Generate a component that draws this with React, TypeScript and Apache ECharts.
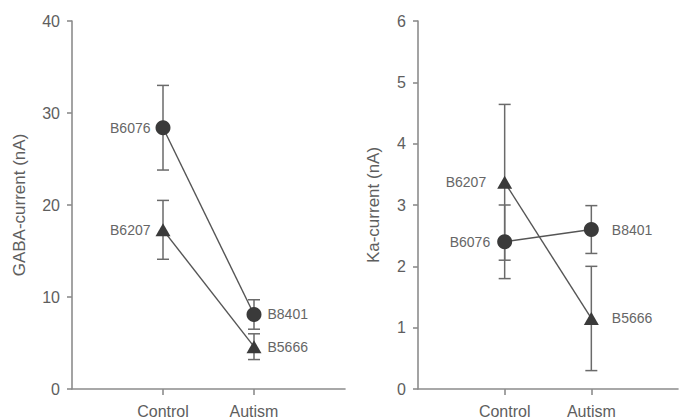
import React, { useEffect, useRef } from "react";
import * as echarts from "echarts";

const categories = ["Control", "Autism"];

const gabaCircle = [28.4, 8.1];
const gabaCircleErr = [4.6, 1.6];
const gabaCircleNames = ["B6076", "B8401"];
const gabaTriangle = [17.3, 4.6];
const gabaTriangleErr = [3.2, 1.4];
const gabaTriangleNames = ["B6207", "B5666"];

const kaCircle = [2.4, 2.6];
const kaCircleErr = [0.6, 0.39];
const kaCircleNames = ["B6076", "B8401"];
const kaTriangle = [3.37, 1.15];
const kaTriangleErr = [1.27, 0.85];
const kaTriangleNames = ["B6207", "B5666"];

const yTicksGaba = { min: 0, max: 40, interval: 10 };
const yTicksKa = { min: 0, max: 6, interval: 1 };

const FONT = "Liberation Sans, Arial, sans-serif";
const AXIS_COLOR = "#8c8c8c";
const TEXT_COLOR = "#5e5e5e";
const MARK_COLOR = "#3a3a3a";
const LINE_COLOR = "#555555";
const ERR_COLOR = "#6a6a6a";

const xData = ["", ...categories, ""];

function lineSeries(
  values: number[],
  names: string[],
  symbol: string,
  symbolSize: number | number[],
  gridIdx: number,
  labelDist: number[]
) {
  return {
    type: "line",
    xAxisIndex: gridIdx,
    yAxisIndex: gridIdx,
    symbol,
    symbolSize,
    z: 3,
    lineStyle: { color: LINE_COLOR, width: 1.4 },
    itemStyle: { color: MARK_COLOR },
    data: [
      "-",
      ...values.map((v, i) => ({
        value: v,
        label: {
          show: true,
          position: i === 0 ? "left" : "right",
          distance: labelDist[i],
          formatter: names[i],
          color: "#666",
          fontSize: 14,
          fontFamily: FONT,
        },
      })),
      "-",
    ],
  };
}

function errSeries(values: number[], errs: number[], gridIdx: number) {
  return {
    type: "custom",
    xAxisIndex: gridIdx,
    yAxisIndex: gridIdx,
    z: 2,
    data: values.map((v, i) => [i + 1, v - errs[i], v + errs[i]]),
    renderItem: (params: any, api: any) => {
      const x = api.value(0);
      const lo = api.coord([x, api.value(1)]);
      const hi = api.coord([x, api.value(2)]);
      const hw = 6;
      const style = { stroke: ERR_COLOR, lineWidth: 1.5 };
      return {
        type: "group",
        children: [
          { type: "line", shape: { x1: lo[0], y1: lo[1], x2: hi[0], y2: hi[1] }, style },
          { type: "line", shape: { x1: lo[0] - hw, y1: lo[1], x2: lo[0] + hw, y2: lo[1] }, style },
          { type: "line", shape: { x1: hi[0] - hw, y1: hi[1], x2: hi[0] + hw, y2: hi[1] }, style },
        ],
      };
    },
  };
}

function xAxis(gridIndex: number) {
  return {
    type: "category",
    gridIndex,
    data: xData,
    boundaryGap: false,
    axisLine: { show: true, lineStyle: { color: AXIS_COLOR, width: 1.6 } },
    axisTick: {
      show: true,
      length: 6,
      interval: (i: number) => i === 1 || i === 2,
      lineStyle: { color: AXIS_COLOR, width: 1.6 },
    },
    axisLabel: {
      interval: 0,
      margin: 14,
      color: TEXT_COLOR,
      fontSize: 16,
      fontFamily: FONT,
    },
    splitLine: { show: false },
  };
}

function yAxis(gridIndex: number, t: any, name: string, nameGap: number) {
  return {
    type: "value",
    gridIndex,
    min: t.min,
    max: t.max,
    interval: t.interval,
    name,
    nameLocation: "middle",
    nameRotate: 90,
    nameGap,
    nameTextStyle: { color: TEXT_COLOR, fontSize: 17, fontFamily: FONT },
    axisLine: { show: true, lineStyle: { color: AXIS_COLOR, width: 1.6 } },
    axisTick: { show: true, length: 5, lineStyle: { color: AXIS_COLOR, width: 1.6 } },
    axisLabel: { margin: 12, color: TEXT_COLOR, fontSize: 16, fontFamily: FONT },
    splitLine: { show: false },
  };
}

export default function App() {
  const ref = useRef<HTMLDivElement>(null);
  useEffect(() => {
    if (!ref.current) return;
    const chart = echarts.init(ref.current, undefined, { renderer: "svg" });
    chart.setOption({
      animation: false,
      backgroundColor: "#ffffff",
      grid: [
        { left: 72, top: 21, width: 273, height: 368 },
        { left: 418, top: 21, width: 273, height: 368 },
      ],
      xAxis: [xAxis(0), xAxis(1)],
      yAxis: [
        yAxis(0, yTicksGaba, "GABA-current (nA)", 44),
        yAxis(1, yTicksKa, "Ka-current (nA)", 36),
      ],
      series: [
        errSeries(gabaCircle, gabaCircleErr, 0),
        errSeries(gabaTriangle, gabaTriangleErr, 0),
        errSeries(kaCircle, kaCircleErr, 1),
        errSeries(kaTriangle, kaTriangleErr, 1),
        lineSeries(gabaCircle, gabaCircleNames, "circle", 15, 0, [5, 6]),
        lineSeries(gabaTriangle, gabaTriangleNames, "triangle", [15, 13], 0, [5, 6]),
        lineSeries(kaCircle, kaCircleNames, "circle", 15, 1, [7, 13]),
        lineSeries(kaTriangle, kaTriangleNames, "triangle", [15, 13], 1, [11, 13]),
      ],
    });
    return () => chart.dispose();
  }, []);
  return (
    <div
      ref={ref}
      style={{ position: "fixed", left: 0, top: 0, width: 681, height: 420, background: "#fff" }}
    />
  );
}
